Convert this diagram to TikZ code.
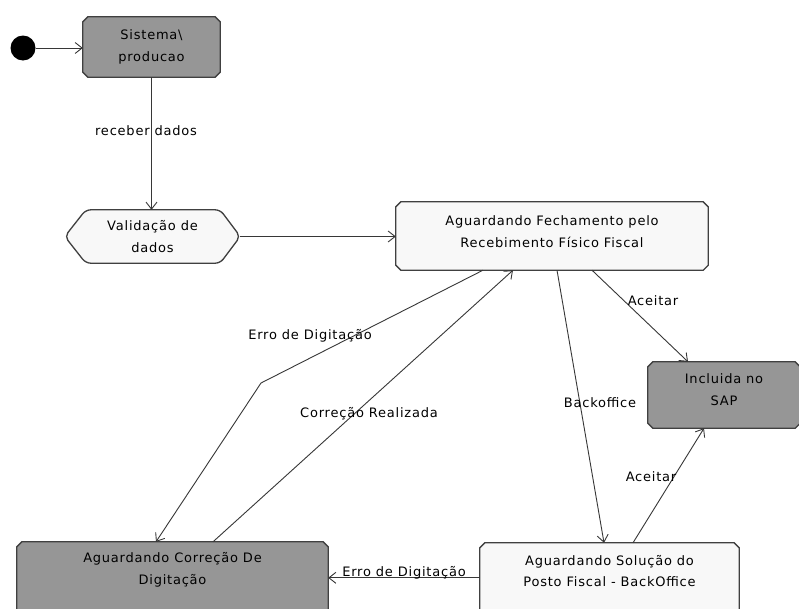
\documentclass[tikz,border=0pt]{standalone}
\usepackage{fontspec}
\setmainfont{DejaVu Sans}[LetterSpace=6]
\usetikzlibrary{arrows.meta}
\definecolor{stategray}{RGB}{150,150,150}
\definecolor{statewhite}{RGB}{248,248,248}
\definecolor{linecol}{RGB}{55,55,55}
\definecolor{bordercol}{RGB}{64,64,64}
% outline of a state with cut corners, drawn around an empty node
\newcommand\cutbox[2]{%
  \draw[draw=bordercol, line width=1.3pt, fill=#2]
    ([xshift=5pt]#1.north west) -- ([xshift=-5pt]#1.north east)
    -- ([yshift=-5pt]#1.north east) -- ([yshift=5pt]#1.south east)
    -- ([xshift=-5pt]#1.south east) -- ([xshift=5pt]#1.south west)
    -- ([yshift=5pt]#1.south west) -- ([yshift=-5pt]#1.north west)
    -- cycle;}
\begin{document}
\begin{tikzpicture}[x=1pt,y=-1pt,
  statebox/.style={rectangle, draw=none, inner sep=0pt},
  txt/.style={font=\fontsize{13}{21.5}\selectfont, align=center, inner sep=0pt},
  lbl/.style={font=\fontsize{13}{21.5}\selectfont, inner sep=0pt},
  arr/.style={draw=linecol, line width=0.9pt,
    -{Straight Barb[length=7pt,width=11pt,line width=0.9pt]}}]
\clip (0,0) rectangle (799,608);
\fill[color=white] (0,0) rectangle (799,608);

% initial pseudo-state
\node[circle, fill=black, minimum size=25pt, inner sep=0pt] (init) at (23,48) {};

% states
\node[statebox, minimum width=137pt, minimum height=60pt] (sis) at (151.5,47) {};
\cutbox{sis}{stategray}
\node[txt] at ([yshift=-30pt]sis.north) {Sistema\textbackslash\\producao};

\node[statebox, minimum width=175pt, minimum height=53pt] (val) at (152.5,236.5) {};
\draw[draw=bordercol, line width=1.3pt, fill=statewhite, rounded corners=5pt]
  ([xshift=21pt]val.north west) -- ([xshift=-20pt]val.north east) -- (val.east)
  -- ([xshift=-20pt]val.south east) -- ([xshift=21pt]val.south west) -- (val.west) -- cycle;
\node[txt] at (val.center) {Validação de\\dados};

\node[statebox, minimum width=312pt, minimum height=68pt] (fech) at (552,236) {};
\cutbox{fech}{statewhite}
\node[txt] at ([yshift=-30pt]fech.north) {Aguardando Fechamento pelo\\Recebimento Físico Fiscal};

\node[statebox, minimum width=152pt, minimum height=66pt] (sap) at (724,395) {};
\cutbox{sap}{stategray}
\node[txt] at ([yshift=-28pt]sap.north) {Incluida no\\SAP};

\node[statebox, minimum width=311pt, minimum height=90pt] (cor) at (172.5,587) {};
\cutbox{cor}{stategray}
\node[txt] at ([yshift=-28pt]cor.north) {Aguardando Correção De\\Digitação};

\node[statebox, minimum width=259pt, minimum height=90pt] (sol) at (609.5,588) {};
\cutbox{sol}{statewhite}
\node[txt] at ([yshift=-28pt]sol.north) {Aguardando Solução do\\Posto Fiscal - BackOffice};

% transitions
\draw[arr] (init) -- (sis.west |- init);
\draw[arr] (sis.south) -- (sis.south |- val.north);
\node[lbl] at (146,131) {receber dados};

\draw[arr] (val.east) -- (val.east -| fech.west);

\coordinate (bend) at (261,383);
\draw[arr] ([xshift=-69pt]fech.south) -- (bend) -- ([xshift=-16.5pt]cor.north);
\node[lbl] at (310,336) {Erro de Digitação};

\draw[arr] ([xshift=40.5pt]cor.north) -- ([xshift=-39pt]fech.south);
\node[lbl] at (369,414) {Correção Realizada};

\draw[arr] ([xshift=5pt]fech.south) -- ([xshift=-5.5pt]sol.north);
\node[lbl] at (600,403) {Backoffice};

\draw[arr] ([xshift=40pt]fech.south) -- ([xshift=-36pt]sap.north);
\node[lbl] at (653,301) {Aceitar};

\draw[arr] ([xshift=23.5pt]sol.north) -- ([xshift=-20pt]sap.south);
\node[lbl] at (651,477) {Aceitar};

\draw[arr] ([yshift=-35pt]sol.north west) -- ([yshift=-36pt]cor.north east);
\node[lbl] at (404,573) {Erro de Digitação};
\end{tikzpicture}
\end{document}
